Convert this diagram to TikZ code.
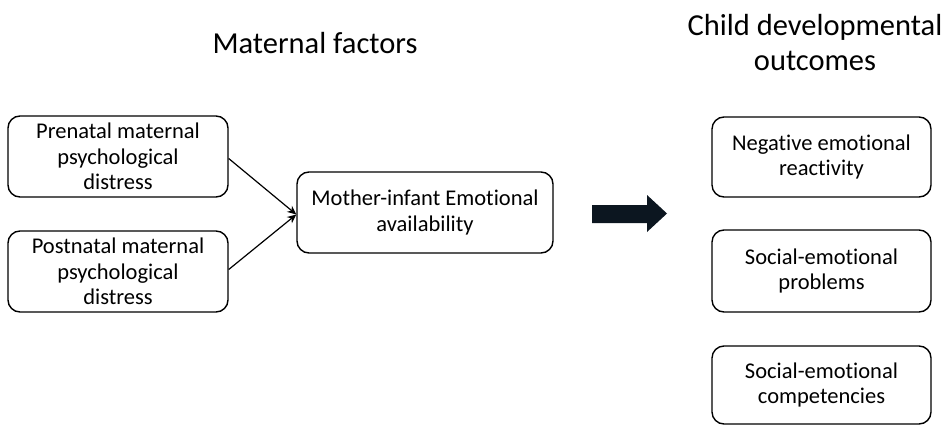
\documentclass[tikz,border=0pt]{standalone}
\usepackage{fontspec}
\setmainfont[Ligatures={NoCommon,NoRare}]{Carlito}
\usetikzlibrary{arrows.meta}
\begin{document}
\begin{tikzpicture}[x=1pt,y=-1pt,
  box/.style={draw, line width=1.4pt, rounded corners=12pt, align=center,
    font=\fontsize{22.5}{25.5}\selectfont, inner sep=0pt},
  ttl/.style={align=center, font=\fontsize{30.5}{35}\selectfont},
  conn/.style={line width=1.2pt, -{Stealth[length=9pt,width=8pt]}}]
\useasboundingbox (0,0) rectangle (949,425);
\node[ttl] (t1) at (315,43) {Maternal factors};
\node[ttl] (t2) at (815,43) {Child developmental\\outcomes};
\node[box, minimum width=220pt, minimum height=81pt] (pre) at (118,156.5) {Prenatal maternal\\psychological\\distress};
\node[box, minimum width=220pt, minimum height=81pt] (post) at (118,271.5) {Postnatal maternal\\psychological\\distress};
\node[box, minimum width=256pt, minimum height=81pt] (mid) at (425,212.5) {Mother-infant Emotional\\availability};
\node[box, minimum width=219pt, minimum height=80pt] (o1) at (821.5,157) {Negative emotional\\reactivity};
\node[box, minimum width=219pt, minimum height=82pt] (o2) at (821.5,271) {Social-emotional\\problems};
\node[box, minimum width=219pt, minimum height=78pt] (o3) at (821.5,385) {Social-emotional\\competencies};
\coordinate (m) at ([yshift=-2pt]mid.west);
\draw[conn] ([yshift=-2pt]pre.east) -- (m);
\draw[conn] ([yshift=2pt]post.east) -- (m);
\fill[fill={rgb,255:red,12;green,22;blue,32}] (592,205) -- (647,205) -- (647,195) -- (667,213.5) -- (647,232) -- (647,223) -- (592,223) -- cycle;
\end{tikzpicture}
\end{document}
